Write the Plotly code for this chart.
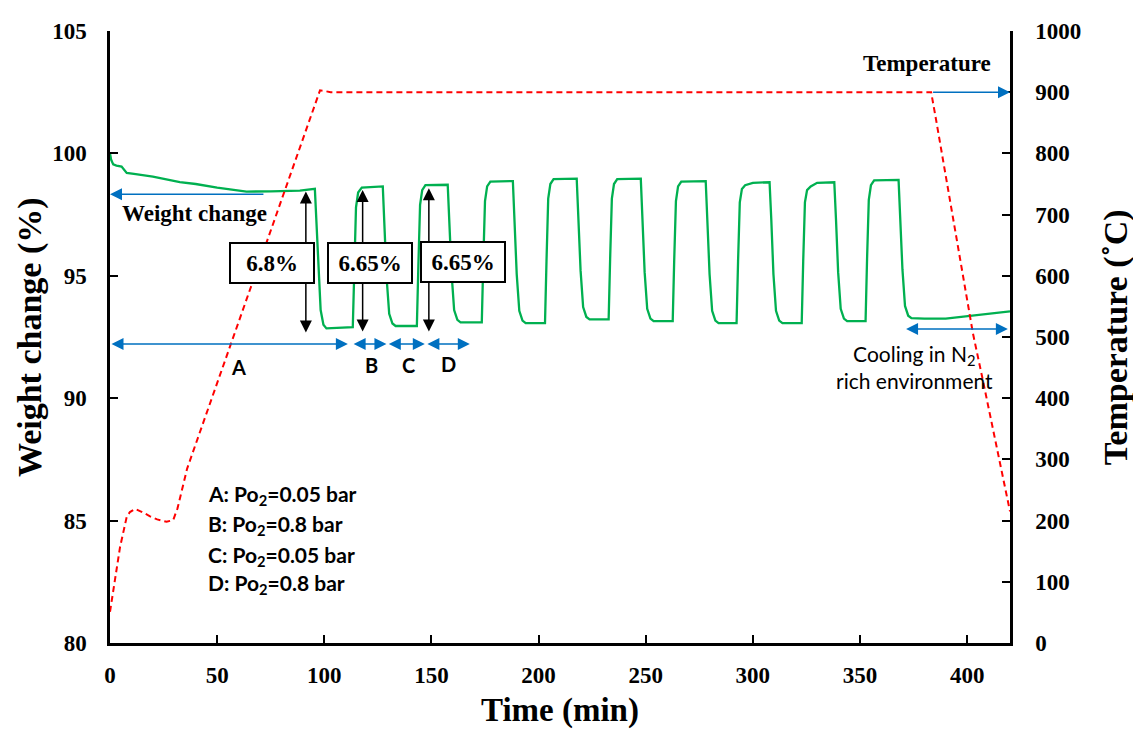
import plotly.graph_objects as go

# ---------------- data ----------------
weight_time = [
    0, 0.5, 1.5, 3, 5.4, 7.8, 12, 20, 32.6, 40, 50, 63.7, 75, 88.6, 95.6,
    96.4, 97.3, 98.3, 99.6, 101, 113.3,
    114.0, 114.8, 115.8, 117.5, 127.3, 128.1, 129.1, 130.3, 131.8, 133.3, 143.2,
    143.9, 144.7, 145.7, 147.2, 157.6, 158.4, 159.4, 160.6, 162.1, 163.6, 173.5,
    174.2, 175.0, 176.0, 177.5, 188.0, 188.8, 189.8, 191.0, 192.5, 194.0, 203.0,
    203.7, 204.5, 205.5, 207.0, 217.8, 218.6, 219.6, 220.8, 222.3, 223.8, 232.7,
    233.4, 234.2, 235.2, 236.7, 247.7, 248.5, 249.5, 250.7, 252.2, 253.7, 262.6,
    263.3, 264.1, 265.1, 266.6, 278.0, 278.8, 279.8, 281.0, 282.5, 284.0, 292.4,
    293.1, 293.9, 294.9, 296.4, 300.0, 307.8, 308.6, 309.6, 310.8, 312.3, 313.8, 322.8,
    323.5, 324.3, 325.3, 327.0, 330.0, 338.0, 338.8, 339.8, 341.0, 342.5, 344.0, 352.6,
    353.3, 354.1, 355.1, 356.6, 368.0, 368.8, 369.8, 371.0, 372.5, 374.0,
    380, 390, 400, 410, 420,
]
weight_pct = [
    100.0, 99.75, 99.55, 99.5, 99.46, 99.2, 99.15, 99.05, 98.83, 98.75, 98.6, 98.44, 98.45, 98.48, 98.55,
    97.0, 95.0, 93.6, 93.0, 92.85, 92.9,
    95.4, 97.8, 98.4, 98.6, 98.65, 97.1, 94.9, 93.45, 93.05, 92.95, 92.95,
    95.4, 97.9, 98.5, 98.7, 98.72, 97.2, 95.1, 93.6, 93.2, 93.1, 93.1,
    95.6, 98.05, 98.65, 98.85, 98.87, 97.35, 95.07, 93.57, 93.17, 93.07, 93.07,
    95.6, 98.15, 98.75, 98.95, 98.97, 97.45, 95.22, 93.72, 93.32, 93.22, 93.22,
    95.7, 98.15, 98.75, 98.95, 98.97, 97.45, 95.15, 93.65, 93.25, 93.15, 93.15,
    95.65, 98.05, 98.65, 98.85, 98.87, 97.35, 95.07, 93.57, 93.17, 93.07, 93.07,
    95.6, 98.0, 98.55, 98.7, 98.8, 98.82, 97.3, 95.07, 93.57, 93.17, 93.07, 93.07,
    95.6, 98.0, 98.5, 98.65, 98.8, 98.82, 97.3, 95.15, 93.65, 93.25, 93.15, 93.15,
    95.7, 98.1, 98.7, 98.9, 98.92, 97.4, 95.27, 93.77, 93.37, 93.27,
    93.25, 93.25, 93.35, 93.45, 93.55,
]

temp_time = [0, 1.6, 4.7, 7.8, 9.3, 11.7, 15, 18.7, 22, 26.4, 29.5, 31.5, 33.5, 36, 40,
             57, 80, 98, 100, 103, 200, 300, 383.2, 385.5, 396.5, 402.7, 407.3, 420]
temp_c = [51, 87, 157, 206, 214, 219, 214, 207, 202, 198, 201, 220, 250, 285, 325,
          495, 725, 903, 902, 900, 900, 900, 900, 855, 635, 506, 430, 215]

x_ticks = [0, 50, 100, 150, 200, 250, 300, 350, 400]
y_ticks = [80, 85, 90, 95, 100, 105]
y2_ticks = [0, 100, 200, 300, 400, 500, 600, 700, 800, 900, 1000]

delta_labels = ["6.8%", "6.65%", "6.65%"]
step_labels = ["A", "B", "C", "D"]
condition_labels = [
    "A: Po<sub>2</sub>=0.05 bar",
    "B: Po<sub>2</sub>=0.8 bar",
    "C: Po<sub>2</sub>=0.05 bar",
    "D: Po<sub>2</sub>=0.8 bar",
]

# ---------------- styling ----------------
SERIF = "Liberation Serif"
SANS = "Lato"
GREEN = "#00B050"
RED = "#FF0000"
BLUE = "#0070C0"

fig = go.Figure()
fig.add_trace(go.Scatter(x=weight_time, y=weight_pct, mode="lines",
                         line=dict(color=GREEN, width=2.3), yaxis="y",
                         showlegend=False, hoverinfo="skip"))
fig.add_trace(go.Scatter(x=temp_time, y=temp_c, mode="lines",
                         line=dict(color=RED, width=2, dash="6px,4px"), yaxis="y2",
                         showlegend=False, hoverinfo="skip"))

tickfont = dict(family=SERIF, size=23, color="black", weight="bold")
axis_common = dict(ticks="inside", ticklen=8, tickwidth=1.5, tickcolor="black",
                   showline=True, linecolor="black", linewidth=2.5,
                   showgrid=False, zeroline=False, tickfont=tickfont)

ann = []


def arrow(x, y, ax, ay, color, both=False, yref="y"):
    d = dict(x=x, y=y, ax=ax, ay=ay, xref="x", yref=yref, axref="x", ayref=yref,
             text="", showarrow=True, arrowhead=2, arrowsize=1.6, arrowwidth=1.5,
             arrowcolor=color, standoff=0, startstandoff=0)
    if both:
        d.update(arrowside="end+start", startarrowhead=2, startarrowsize=1.6)
    ann.append(d)


# blue horizontal arrows
arrow(0, 98.33, 72.3, 98.33, BLUE)                       # weight change
arrow(420, 900, 383.4, 900, BLUE, yref="y2")            # temperature
arrow(419, 92.83, 370.8, 92.83, BLUE, both=True)        # cooling
arrow(111, 92.21, 0, 92.21, BLUE, both=True)            # A
arrow(129, 92.21, 113, 92.21, BLUE, both=True)          # B
arrow(146.9, 92.21, 129.4, 92.21, BLUE, both=True)      # C
arrow(167.9, 92.21, 147.4, 92.21, BLUE, both=True)      # D

# black vertical double arrows
arrow(91.4, 92.68, 91.4, 98.5, "black", both=True)
arrow(117.9, 92.72, 117.9, 98.57, "black", both=True)
arrow(148.8, 92.72, 148.8, 98.64, "black", both=True)

# boxes with percentage
box_pos = [(75.6, 95.52), (121.3, 95.52), (164.6, 95.56)]
for lab, (bx, by) in zip(delta_labels, box_pos):
    ann.append(dict(x=bx, y=by, xref="x", yref="y", text=lab, showarrow=False,
                    xanchor="center", yanchor="middle",
                    font=dict(family=SERIF, size=23, color="black", weight="bold"),
                    bgcolor="white", bordercolor="black", borderwidth=2, borderpad=0,
                    width=82, height=38, align="center", valign="middle"))

# step letters
step_pos = [(59.8, 91.29), (122.0, 91.36), (139.2, 91.36), (157.8, 91.41)]
for lab, (sx, sy) in zip(step_labels, step_pos):
    ann.append(dict(x=sx, y=sy, xref="x", yref="y", text=lab, showarrow=False,
                    xanchor="center", yanchor="middle",
                    font=dict(family=SANS, size=20, color="black", weight="bold")))

# conditions list
cond_y = [86.05, 84.83, 83.56, 82.42]
for lab, cy in zip(condition_labels, cond_y):
    ann.append(dict(x=44.8, y=cy, xref="x", yref="y", text=lab, showarrow=False,
                    xanchor="left", yanchor="middle",
                    font=dict(family=SANS, size=21, color="black", weight="bold")))

# other texts
ann.append(dict(x=39.3, y=97.55, xref="x", yref="y", text="Weight change", showarrow=False,
                xanchor="center", yanchor="middle",
                font=dict(family=SERIF, size=23, color="black", weight="bold")))
ann.append(dict(x=381.2, y=947, xref="x", yref="y2", text="Temperature", showarrow=False,
                xanchor="center", yanchor="middle",
                font=dict(family=SERIF, size=23, color="black", weight="bold")))
ann.append(dict(x=375.5, y=91.27, xref="x", yref="y", text="Cooling in N<sub>2</sub><br>rich environment",
                showarrow=False, align="center", xanchor="center", yanchor="middle",
                font=dict(family=SANS, size=21, color="black")))

# axis titles
titlefont = dict(family=SERIF, size=34, color="black", weight="bold")
ann.append(dict(x=0.5, y=-0.111, xref="paper", yref="paper", text="Time (min)",
                showarrow=False, font=dict(family=SERIF, size=33, color="black", weight="bold"),
                xanchor="center", yanchor="middle"))
ann.append(dict(x=-0.0889, y=0.5, xref="paper", yref="paper", text="Weight change (%)",
                showarrow=False, font=titlefont, textangle=-90,
                xanchor="center", yanchor="middle"))
ann.append(dict(x=1.118, y=0.5, xref="paper", yref="paper", text="Temperature (˚C)",
                showarrow=False, font=titlefont, textangle=-90,
                xanchor="center", yanchor="middle"))

fig.update_layout(
    width=1133, height=731,
    margin=dict(l=110, r=123, t=31, b=88),
    paper_bgcolor="white", plot_bgcolor="white",
    xaxis=dict(range=[0, 420], tickvals=x_ticks, ticklabelstandoff=10, **axis_common),
    yaxis=dict(range=[80, 105], tickvals=y_ticks, ticklabelstandoff=16, **axis_common),
    yaxis2=dict(range=[0, 1000], tickvals=y2_ticks, overlaying="y", side="right",
                ticklabelstandoff=18, **axis_common),
    annotations=ann,
    showlegend=False,
)

fig.write_html("out.html")
